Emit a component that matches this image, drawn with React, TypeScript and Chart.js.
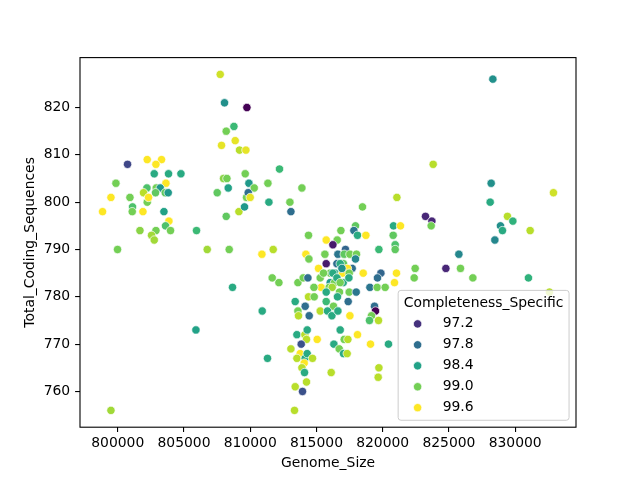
import { useEffect, useRef } from "react";
import { Chart, registerables } from "chart.js";

Chart.register(...registerables);

// Genome size (bp), total coding sequences and completeness per genome
const genomeSize = [
  807736, 808060, 809751, 808770, 808189, 807834, 808868, 809192, 809675, 800740,
  802226, 803306, 802883, 802755, 803834, 804770, 799864, 803638, 807985, 808241,
  809623, 808340, 802204, 802906, 803208, 803585, 803811, 802853, 801947, 802226,
  802325, 800921, 799487, 801117, 801094, 798853, 801902, 803487, 803864, 803608,
  801676, 802883, 803985, 802551, 802755, 805947, 799985, 806755, 808415, 807509,
  808189, 809147, 809570, 809721, 808664, 805902, 799487, 812211, 809902, 811336,
  810302, 813902, 809849, 810000, 811411, 812996, 813072, 821071, 818475, 817947,
  817826, 818098, 816845, 818732, 820815, 821343, 820792, 820943, 820943, 819713,
  814400, 816566, 815736, 816241, 817192, 811736, 810883, 814204, 814430, 815637,
  816619, 817094, 817524, 818022, 817947, 815736, 815155, 816543, 817041, 817698,
  817343, 816038, 816415, 816966, 817471, 818528, 815283, 816038, 816362, 817019,
  817449, 811660, 812166, 813600, 814000, 814355, 815358, 814808, 815962, 816188,
  816739, 817471, 818000, 815736, 819864, 819607, 821041, 820890, 819034, 819585,
  820188, 814400, 814830, 813396, 815736, 816588, 817396, 819381, 813600, 816286,
  814151, 819456, 810906, 813645, 814453, 815283, 815834, 816166, 816619, 816792,
  817524, 819154, 819003, 819683, 818098, 819079, 820437, 815056, 813524, 814128,
  814249, 814302, 813849, 813072, 813773, 813524, 814151, 814302, 814702, 814075,
  813902, 814098, 814249, 813396, 813947, 813343, 811305, 816317, 816717, 817094,
  817373, 817041, 817320, 816113, 819713, 819660, 828316, 823811, 828188, 832890,
  828113, 823230, 823713, 823660, 829418, 829826, 828890, 829041, 831132, 828467,
  825750, 822452, 822377, 824769, 825872, 826807, 831003, 832588, 816792, 816921,
  815532, 816241, 816543, 816792,
];

const totalCodingSequences = [
  827, 821, 820, 816, 815, 812, 813, 811, 811, 808,
  809, 809, 808, 806, 806, 806, 804, 804, 805, 805,
  806, 803, 803, 803, 803, 802, 802, 802, 802, 800,
  801, 801, 801, 799, 798, 798, 798, 798, 796, 795,
  794, 794, 794, 793, 792, 794, 790, 790, 790, 802,
  797, 798, 799, 801, 782, 773, 756, 807, 804, 804,
  803, 803, 802, 801, 800, 800, 798, 801, 799, 795,
  794, 793, 794, 793, 795, 795, 793, 791, 790, 790,
  793, 792, 792, 791, 790, 790, 789, 789, 788, 789,
  789, 789, 789, 789, 788, 787, 786, 787, 787, 786,
  786, 785, 785, 785, 785, 785, 784, 783, 783, 783,
  784, 784, 783, 783, 784, 784, 782, 782, 782, 782,
  781, 781, 781, 781, 785, 784, 785, 783, 782, 782,
  782, 780, 780, 779, 779, 780, 779, 778, 777, 778,
  778, 777, 777, 776, 776, 777, 777, 776, 777, 773,
  776, 776, 775, 775, 772, 770, 770, 771, 772, 772,
  771, 773, 770, 769, 768, 767, 767, 768, 767, 766,
  765, 764, 762, 761, 760, 756, 767, 770, 769, 771,
  771, 768, 768, 764, 765, 763, 826, 808, 804, 802,
  800, 797, 796, 795, 797, 796, 795, 794, 794, 792,
  789, 786, 784, 786, 786, 784, 784, 781, 787, 786,
  785, 785, 784, 783,
];

const completeness = [
  99.4, 98.2, 96.8, 98.7, 99.0, 99.5, 99.5, 99.3, 99.5, 97.4,
  99.6, 99.6, 99.6, 98.5, 98.5, 98.5, 99.0, 99.6, 99.1, 99.0,
  99.0, 98.4, 98.8, 99.0, 98.3, 98.9, 98.3, 98.9, 99.3, 99.0,
  99.6, 99.0, 99.6, 98.8, 99.0, 99.6, 99.6, 98.4, 99.6, 98.8,
  99.1, 99.0, 99.0, 99.2, 99.2, 98.7, 99.0, 99.2, 99.0, 98.9,
  98.9, 99.3, 98.3, 99.0, 98.5, 98.4, 99.2, 98.7, 98.3, 99.0,
  99.0, 99.0, 97.8, 99.5, 98.5, 99.0, 97.8, 99.3, 99.0, 98.9,
  97.9, 98.5, 99.0, 99.6, 98.5, 99.6, 98.9, 98.8, 98.9, 98.7,
  99.0, 99.0, 99.6, 97.0, 97.7, 99.3, 99.6, 99.6, 99.0, 99.0,
  97.9, 98.9, 99.0, 99.0, 98.1, 97.0, 99.6, 97.8, 98.9, 97.8,
  99.6, 99.0, 98.5, 99.6, 99.0, 99.6, 99.0, 98.3, 99.0, 98.5,
  98.5, 99.0, 99.0, 99.0, 99.0, 97.8, 99.6, 99.0, 99.0, 99.2,
  99.0, 99.0, 97.9, 98.5, 97.7, 97.8, 99.6, 99.6, 97.9, 99.0,
  99.0, 99.3, 99.0, 98.5, 98.7, 98.5, 97.8, 97.8, 99.0, 99.0,
  97.8, 96.8, 98.5, 99.3, 97.8, 99.3, 98.5, 98.5, 98.5, 98.5,
  99.6, 99.0, 98.8, 99.3, 99.6, 99.6, 98.5, 99.6, 98.5, 99.3,
  99.3, 98.5, 97.5, 99.3, 99.6, 99.3, 98.5, 98.5, 99.3, 99.6,
  99.3, 98.5, 99.3, 99.3, 97.5, 99.3, 98.5, 98.5, 99.0, 99.0,
  99.3, 98.5, 99.3, 99.3, 99.3, 99.3, 98.2, 99.3, 98.2, 99.4,
  98.5, 97.1, 97.1, 99.0, 99.3, 98.6, 98.2, 98.5, 99.3, 98.1,
  98.1, 99.0, 99.0, 97.1, 99.0, 99.0, 98.6, 99.3, 98.5, 98.2,
  99.0, 98.5, 98.5, 99.0,
];

const xTickValues = [800000, 805000, 810000, 815000, 820000, 825000, 830000];
const yTickValues = [760, 770, 780, 790, 800, 810, 820];
const legendLevels = [97.2, 97.8, 98.4, 99.0, 99.6];

const xLabel = "Genome_Size";
const yLabel = "Total_Coding_Sequences";
const hueLabel = "Completeness_Specific";

// viridis colormap anchors (evenly spaced from 0 to 1)
const VIRIDIS = [
  "#440154", "#482878", "#3e4989", "#31688e", "#26828e",
  "#1f9e89", "#35b779", "#6ece58", "#b5de2b", "#fde725",
];

function hexToRgb(h: string): number[] {
  return [1, 3, 5].map((i) => parseInt(h.slice(i, i + 2), 16));
}

function viridis(t: number): string {
  const c = Math.max(0, Math.min(1, t)) * (VIRIDIS.length - 1);
  const i = Math.min(Math.floor(c), VIRIDIS.length - 2);
  const f = c - i;
  const a = hexToRgb(VIRIDIS[i]);
  const b = hexToRgb(VIRIDIS[i + 1]);
  const m = a.map((v, k) => Math.round(v + (b[k] - v) * f));
  return `rgb(${m[0]},${m[1]},${m[2]})`;
}

const FONT = "DejaVu Sans";
const FS = 13.9; // 10pt at 100 dpi
const POINT_R = 4.17;

function paddedRange(vals: number[]): [number, number] {
  const lo = Math.min(...vals);
  const hi = Math.max(...vals);
  const m = (hi - lo) * 0.05;
  return [lo - m, hi + m];
}

export default function App() {
  const canvasRef = useRef<HTMLCanvasElement | null>(null);

  useEffect(() => {
    const canvas = canvasRef.current;
    if (!canvas) return;

    const hueMin = Math.min(...completeness);
    const hueMax = Math.max(...completeness);
    const colorFor = (v: number) => viridis((v - hueMin) / (hueMax - hueMin));

    const [xMin, xMax] = paddedRange(genomeSize);
    const [yMin, yMax] = paddedRange(totalCodingSequences);

    const points = genomeSize.map((g, i) => ({ x: g, y: totalCodingSequences[i] }));
    const colors = completeness.map(colorFor);

    const decorations = {
      id: "decorations",
      afterDraw(chart: any) {
        const ctx = chart.ctx as CanvasRenderingContext2D;
        const { left, right, top, bottom } = chart.chartArea;
        ctx.save();

        // axes frame
        ctx.strokeStyle = "#000";
        ctx.lineWidth = 1.1;
        ctx.strokeRect(left, top, right - left, bottom - top);

        // axis titles
        ctx.fillStyle = "#000";
        ctx.font = `${FS}px "${FONT}"`;
        ctx.textAlign = "center";
        ctx.textBaseline = "middle";
        ctx.fillText(xLabel, (left + right) / 2, 463);
        ctx.save();
        ctx.translate(30.5, (top + bottom) / 2);
        ctx.rotate(-Math.PI / 2);
        ctx.fillText(yLabel, 0, 0);
        ctx.restore();

        // legend (lower right)
        const pad = 0.4 * FS;
        const rowH = 14;
        const gap = 0.5 * FS;
        const titleW = ctx.measureText(hueLabel).width;
        const lw = titleW + 2 * pad;
        const lh = 2 * pad + rowH * (legendLevels.length + 1) + gap * legendLevels.length;
        const lx = right - 0.5 * FS - lw;
        const ly = bottom - 0.5 * FS - lh;
        const r = 0.2 * FS;

        ctx.beginPath();
        ctx.moveTo(lx + r, ly);
        ctx.lineTo(lx + lw - r, ly);
        ctx.arcTo(lx + lw, ly, lx + lw, ly + r, r);
        ctx.lineTo(lx + lw, ly + lh - r);
        ctx.arcTo(lx + lw, ly + lh, lx + lw - r, ly + lh, r);
        ctx.lineTo(lx + r, ly + lh);
        ctx.arcTo(lx, ly + lh, lx, ly + lh - r, r);
        ctx.lineTo(lx, ly + r);
        ctx.arcTo(lx, ly, lx + r, ly, r);
        ctx.closePath();
        ctx.fillStyle = "rgba(255,255,255,0.8)";
        ctx.fill();
        ctx.strokeStyle = "#cccccc";
        ctx.lineWidth = 1;
        ctx.stroke();

        ctx.fillStyle = "#000";
        ctx.textAlign = "center";
        ctx.fillText(hueLabel, lx + lw / 2, ly + pad + rowH / 2);

        legendLevels.forEach((lv, i) => {
          const cy = ly + pad + rowH / 2 + (i + 1) * (rowH + gap);
          const mx = lx + pad + FS;
          ctx.beginPath();
          ctx.arc(mx, cy, POINT_R, 0, Math.PI * 2);
          ctx.fillStyle = colorFor(lv);
          ctx.fill();
          ctx.strokeStyle = "#fff";
          ctx.lineWidth = 0.7;
          ctx.stroke();
          ctx.fillStyle = "#000";
          ctx.textAlign = "left";
          ctx.fillText(lv.toFixed(1), lx + pad + 2 * FS + 0.8 * FS, cy);
        });

        ctx.restore();
      },
    };

    const tickFont = { family: FONT, size: FS };

    const chart = new Chart(canvas, {
      type: "scatter",
      data: {
        datasets: [
          {
            data: points,
            pointBackgroundColor: colors,
            pointBorderColor: "#ffffff",
            pointBorderWidth: 0.7,
            pointRadius: POINT_R,
            pointHoverRadius: POINT_R,
          },
        ],
      },
      options: {
        responsive: false,
        animation: false,
        events: [],
        layout: { padding: { top: 57.6, right: 64, bottom: 0, left: 0 } },
        plugins: { legend: { display: false }, tooltip: { enabled: false } },
        scales: {
          x: {
            type: "linear",
            min: xMin,
            max: xMax,
            afterFit: (s: any) => {
              s.height = 52.8;
            },
            afterBuildTicks: (s: any) => {
              s.ticks = xTickValues.map((v) => ({ value: v }));
            },
            ticks: {
              font: tickFont,
              color: "#000",
              padding: 3,
              maxRotation: 0,
              autoSkip: false,
              callback: (v: any) => String(v),
            },
            grid: { drawOnChartArea: false, drawTicks: true, tickLength: 4.9, color: "#000", lineWidth: 1.1 },
            border: { display: false },
          },
          y: {
            type: "linear",
            min: yMin,
            max: yMax,
            afterFit: (s: any) => {
              s.width = 80;
            },
            afterBuildTicks: (s: any) => {
              s.ticks = yTickValues.map((v) => ({ value: v }));
            },
            ticks: {
              font: tickFont,
              color: "#000",
              padding: 4.9,
              autoSkip: false,
              callback: (v: any) => String(v),
            },
            grid: { drawOnChartArea: false, drawTicks: true, tickLength: 4.9, color: "#000", lineWidth: 1.1 },
            border: { display: false },
          },
        },
      },
      plugins: [decorations],
    });

    return () => chart.destroy();
  }, []);

  return (
    <div style={{ position: "fixed", left: 0, top: 0, width: 640, height: 480, background: "#fff" }}>
      <canvas ref={canvasRef} width={640} height={480} style={{ display: "block" }} />
    </div>
  );
}
